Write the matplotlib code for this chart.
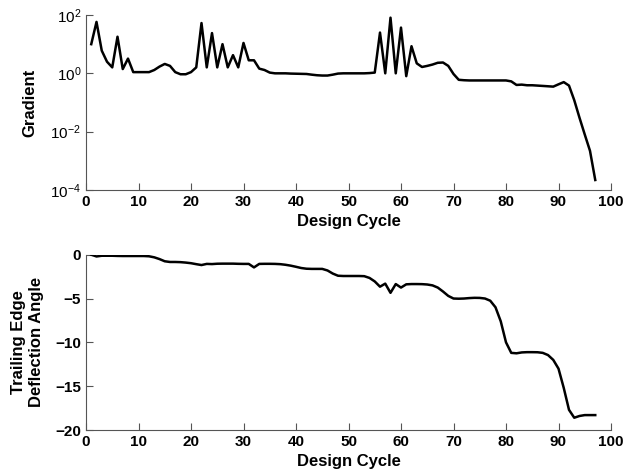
import matplotlib
matplotlib.use("Agg")
import matplotlib.pyplot as plt
import numpy as np

cycles = list(range(1, 98))
gradient = [10, 58, 6, 2.5, 1.6, 18, 1.4, 3.2, 1.1, 1.1,
            1.1, 1.1, 1.3, 1.7, 2.1, 1.8, 1.1, 0.93, 0.93, 1.1,
            1.6, 53, 1.6, 24, 1.6, 10, 1.6, 4.2, 1.6, 11,
            2.8, 2.8, 1.45, 1.3, 1.06, 1.0, 1.0, 1.0, 0.98, 0.97,
            0.96, 0.95, 0.9, 0.86, 0.84, 0.84, 0.9, 0.98, 1.0, 1.0,
            1.0, 1.0, 1.0, 1.02, 1.06, 25, 1.0, 81, 1.0, 37,
            0.8, 8.5, 2.2, 1.65, 1.8, 2.0, 2.3, 2.35, 1.8, 0.95,
            0.6, 0.58, 0.57, 0.57, 0.57, 0.57, 0.57, 0.57, 0.57, 0.57,
            0.53, 0.4, 0.41, 0.39, 0.39, 0.38, 0.37, 0.36, 0.35, 0.42,
            0.5, 0.38, 0.12, 0.03, 0.008, 0.0022, 0.00022]
angle = [0, -0.2, -0.12, -0.12, -0.12, -0.14, -0.15, -0.15, -0.15, -0.15,
         -0.15, -0.18, -0.3, -0.5, -0.75, -0.83, -0.83, -0.85, -0.9, -0.97,
         -1.08, -1.18, -1.05, -1.07, -1.03, -1.02, -1.02, -1.02, -1.04, -1.05,
         -1.05, -1.45, -1.05, -1.04, -1.04, -1.05, -1.08, -1.15, -1.25, -1.38,
         -1.52, -1.6, -1.62, -1.62, -1.62, -1.8, -2.15, -2.4, -2.43, -2.43,
         -2.43, -2.43, -2.45, -2.65, -3.05, -3.65, -3.3, -4.35, -3.35, -3.75,
         -3.38, -3.35, -3.35, -3.36, -3.4, -3.5, -3.75, -4.2, -4.7, -5.0,
         -5.02, -5.0, -4.95, -4.92, -4.93, -5.0, -5.25, -6.0, -7.6, -10.0,
         -11.2, -11.25, -11.15, -11.12, -11.12, -11.13, -11.2, -11.45, -12.0, -13.0,
         -15.2, -17.7, -18.6, -18.4, -18.3, -18.3, -18.3]

xticks = list(range(0, 101, 10))
top_yticks = [1e-4, 1e-2, 1e0, 1e2]
bot_yticks = [-20, -15, -10, -5, 0]

plt.rcParams['font.family'] = ['Liberation Sans', 'DejaVu Sans']

fig = plt.figure(figsize=(6.24, 4.76), dpi=100)
W, H = 624, 476
ax1 = fig.add_axes([86/W, 1-190/H, (611-86)/W, (190-15)/H])
ax2 = fig.add_axes([86/W, 1-430/H, (611-86)/W, (430-254.7)/H])

axcol = '#555555'
for ax in (ax1, ax2):
    for s in ('top', 'right'):
        ax.spines[s].set_visible(False)
    for s in ('left', 'bottom'):
        ax.spines[s].set_color(axcol)
        ax.spines[s].set_linewidth(0.8)
    ax.tick_params(direction='in', length=5, width=0.8, color=axcol, labelsize=11)
    ax.set_xlim(0, 100)
    ax.set_xticks(xticks)
    for lab in ax.get_xticklabels():
        lab.set_fontweight('bold')
    ax.set_xlabel('Design Cycle', fontsize=12, fontweight='bold', labelpad=4)

ax1.plot(cycles, gradient, color='black', lw=1.8)
ax1.set_yscale('log')
ax1.set_ylim(1e-4, 1e2)
ax1.set_yticks(top_yticks)
ax1.minorticks_off()
ax1.tick_params(axis='y', which='minor', left=False)
ax1.set_ylabel('Gradient', fontsize=12, fontweight='bold', labelpad=9)

ax2.plot(cycles, angle, color='black', lw=1.8)
ax2.set_ylim(-20, 0)
ax2.set_yticks(bot_yticks)
ax2.set_yticklabels(['\u221220', '\u221215', '\u221210', '\u22125', '0'])
for lab in ax2.get_yticklabels():
    lab.set_fontweight('bold')
ax2.set_ylabel('Trailing Edge\nDeflection Angle', fontsize=12, fontweight='bold', labelpad=8, linespacing=1.25)

fig.savefig('out.png', dpi=100)
